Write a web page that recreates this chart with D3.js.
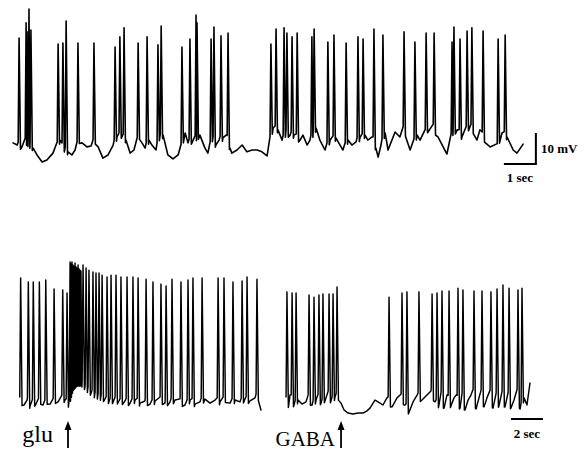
<!DOCTYPE html>
<html>
<head>
<meta charset="utf-8">
<script src="https://cdn.jsdelivr.net/npm/d3@7"></script>
<style>
  html, body { margin: 0; padding: 0; background: #fff; }
  svg { display: block; }
  text { font-family: "Liberation Serif", "DejaVu Serif", serif; fill: #000; }
</style>
</head>
<body>
<script>
// ---------- DATA (time in s, voltage in mV relative to rest) ----------
// Top trace: spontaneous firing
const topSpikeT = [0.19,0.41,0.44,0.50,0.56,1.41,1.56,1.66,2.03,2.53,3.19,3.34,3.47,3.91,4.19,4.53,4.63,5.28,5.53,5.72,5.75,6.19,6.28,6.50,6.72,8.06,8.22,8.47,8.56,8.72,8.88,9.34,9.41,9.84,10.03,10.41,10.78,10.94,11.28,11.56,12.22,12.56,12.91,13.16,13.72,13.78,13.97,14.19,14.34,14.69,15.16,15.38];
const topSpikeV = [36.1,41.0,38.1,45.5,38.7,34.2,34.5,41.6,34.5,34.5,33.2,36.5,39.4,34.5,36.5,33.9,40.0,33.2,35.8,43.5,41.0,35.8,39.7,36.8,37.7,34.2,39.0,39.4,37.7,36.5,37.7,36.5,39.0,34.8,37.1,34.5,36.5,35.8,39.0,37.1,38.1,34.8,37.7,37.7,34.8,39.7,35.8,38.4,39.4,38.4,35.8,37.1];
const topBaseT = [0,0.13,0.28,0.38,0.63,0.75,0.91,1.06,1.25,1.38,1.47,1.53,1.63,1.72,1.84,1.94,2.06,2.16,2.31,2.44,2.56,2.66,2.81,2.97,3.13,3.25,3.38,3.53,3.66,3.78,3.94,4.03,4.13,4.25,4.34,4.47,4.56,4.69,4.84,5.00,5.16,5.28,5.38,5.47,5.63,5.84,6.00,6.09,6.22,6.34,6.44,6.56,6.66,6.78,6.84,7.00,7.16,7.31,7.47,7.63,7.78,7.94,8.03,8.13,8.28,8.41,8.53,8.66,8.78,8.97,9.06,9.19,9.28,9.47,9.59,9.75,9.91,10.09,10.22,10.31,10.47,10.59,10.72,10.84,11.00,11.09,11.22,11.34,11.41,11.50,11.63,11.72,11.94,12.09,12.22,12.41,12.63,12.72,12.94,13.13,13.28,13.56,13.72,13.88,14.03,14.19,14.34,14.50,14.59,14.69,14.91,15.13,15.28,15.44,15.63,15.75,15.94];
const topBaseV = [2.3,1.6,1.0,2.9,0.6,-1.6,-3.9,-3.2,-1.0,1.6,3.2,1.3,0.0,-0.6,-1.6,0.0,3.2,2.3,1.0,1.3,3.2,1.0,-2.6,-1.6,1.6,4.2,4.8,3.2,-1.0,0.0,4.8,2.3,0.6,3.2,1.6,0.0,3.9,4.8,-1.6,-2.9,-1.6,1.6,5.5,2.3,3.2,4.8,0.6,-1.0,3.9,1.6,3.2,3.9,4.8,0.6,-1.0,0.0,1.6,-0.6,0.0,0.0,-0.6,-1.9,3.2,7.1,6.5,3.2,5.5,4.8,4.8,3.2,4.8,1.6,3.2,7.1,3.2,0.0,3.2,3.9,1.6,0.0,3.2,1.6,2.6,3.9,4.8,3.2,4.2,0.6,-2.3,1.6,5.5,0.0,5.8,4.2,7.1,0.0,4.8,3.2,6.5,7.4,4.2,-1.3,5.5,6.5,4.2,7.1,7.4,3.2,6.5,4.2,1.0,1.0,5.5,4.2,0.0,-1.0,1.9];

// Bottom-left trace: glutamate application
const gluSpikeT = [0.04,0.52,0.83,1.21,1.61,2.13,2.67,2.94,3.13,3.19,3.25,3.31,3.38,3.44,3.50,3.56,3.63,3.69,3.75,3.81,3.94,4.13,4.31,4.56,4.75,4.94,5.13,5.44,5.69,6.00,6.31,6.69,7.06,7.38,7.88,8.31,8.81,9.13,9.50,10.06,10.50,10.81,11.38,12.38,12.75,13.31,13.88,14.19,14.81];
const gluSpikeV = [41.0,39.7,39.7,39.7,40.3,37.4,37.1,36.1,46.1,45.5,46.1,45.2,44.8,45.8,44.5,44.2,45.2,43.9,43.5,43.2,45.2,44.2,43.5,42.9,42.6,42.6,41.9,41.3,41.9,41.9,41.3,41.3,41.3,41.0,40.6,39.7,39.0,38.4,40.6,39.7,40.3,41.0,41.0,41.0,41.0,39.7,40.0,41.3,40.6];
const gluBaseT = [0,0.25,0.44,0.63,0.81,1.0,1.25,1.44,1.69,1.88,2.19,2.38,2.63,2.81,3.0,3.13,3.31,3.56,3.81,4.06,4.38,4.69,5.0,5.31,5.63,5.94,6.25,6.56,6.88,7.19,7.5,7.81,8.13,8.44,8.75,9.06,9.38,9.69,10.0,10.31,10.63,10.94,11.25,11.56,11.88,12.19,12.5,12.81,13.13,13.44,13.75,14.06,14.38,14.69,14.88,15.06];
const gluBaseV = [1.6,0,1.6,-0.3,1.0,0.3,1.6,0,1.3,0.3,1.6,1.0,2.3,1.6,0,1.6,5.5,7.1,7.1,5.8,4.2,3.2,2.6,1.9,1.3,1.6,1.0,1.3,0.6,1.6,0.6,1.3,0.3,1.3,1.6,0.6,1.0,1.6,1.0,0,1.6,0.3,1.0,1.9,0.6,1.6,1.0,1.9,0.6,1.6,1.0,1.9,1.3,2.3,2.9,-1.6];

// Bottom-right trace: GABA application
const gabaSpikeT = [0.06,0.38,0.63,1.44,1.75,2.06,2.31,2.69,2.94,3.19,6.44,7.25,7.56,8.31,9.13,9.44,9.75,10.19,10.75,11.06,11.75,12.25,12.81,13.19,13.56,13.94,14.50,14.75];
const gabaSpikeV = [36.5,36.1,36.1,35.5,34.8,35.5,35.8,35.8,35.8,38.1,34.8,36.1,36.5,36.5,35.8,36.1,36.8,36.8,37.7,37.1,36.8,36.8,36.5,37.4,38.7,37.7,37.1,37.7];
const gabaBaseT = [0,0.13,0.25,0.5,0.75,1.0,1.25,1.38,1.63,1.88,2.0,2.19,2.5,2.63,2.81,3.06,3.25,3.44,3.63,3.88,4.19,4.5,4.81,5.06,5.25,5.56,5.75,6.06,6.31,6.63,6.94,7.13,7.44,7.69,7.94,8.19,8.5,8.81,9.06,9.31,9.56,9.69,9.88,10.06,10.31,10.5,10.63,10.88,11.0,11.19,11.38,11.56,11.69,11.88,12.06,12.19,12.38,12.56,12.75,12.94,13.13,13.31,13.5,13.69,13.88,14.06,14.25,14.44,14.63,14.88,15.06,15.25];
const gabaBaseV = [1.6,-0.3,3.2,0,1.6,0.3,1.0,2.3,0,1.6,2.6,0.6,2.3,3.5,1.3,2.6,2.9,0.6,-1.6,-2.6,-2.9,-2.6,-2.6,-1.9,-1.0,1.6,1.0,0,2.3,-0.6,2.3,3.2,0,-2.3,1.0,3.2,1.6,3.2,4.5,1.0,0,3.2,-1.0,3.2,-0.3,2.3,3.2,-1.0,2.9,-1.6,1.6,3.2,4.2,-1.3,2.3,3.9,-0.6,2.3,3.9,-1.0,2.9,-0.3,3.5,-0.6,3.2,-1.0,1.6,4.2,-1.3,2.3,0,7.1];

// Drug application times (s) and labels
const gluEventT = [3.0];
const gabaEventT = [3.44];
const eventLabels = ["glu", "GABA"];
const scaleLabels = ["10 mV", "1 sec", "2 sec"];

// ---------- DRAWING ----------
const W = 584, H = 450;
const svg = d3.select("body").append("svg").attr("width", W).attr("height", H);

const xTop = d3.scaleLinear().domain([0, 16]).range([13, 525]);
const yTop = d3.scaleLinear().domain([0, 10]).range([150, 119]);
const xGlu = d3.scaleLinear().domain([0, 15]).range([20, 260]);
const xGaba = d3.scaleLinear().domain([0, 15]).range([286, 526]);
const yBot = d3.scaleLinear().domain([0, 10]).range([405, 374]);

function tracePoints(baseT, baseV, spT, spV, x) {
  const baseFn = d3.scaleLinear().domain(baseT).range(baseV).clamp(true);
  const pxPerS = x(1) - x(0);
  const prePx = 0.9, postPx = 1.4;
  const wins = spT.map((t, i) => {
    const gp = i > 0 ? t - spT[i - 1] : 1;
    const gn = i < spT.length - 1 ? spT[i + 1] - t : 1;
    const pre = Math.min(prePx / pxPerS, gp * 0.45);
    const post = Math.min(postPx / pxPerS, gn * 0.45);
    return { t, v: spV[i], a: t - pre, b: t + post };
  });
  const pts = [];
  baseT.forEach((t, i) => {
    if (!wins.some(w => t >= w.a - 0.01 && t <= w.b + 0.01)) pts.push({ t, v: baseV[i] });
  });
  wins.forEach(w => {
    pts.push({ t: w.a, v: baseFn(w.a) + 1 });
    pts.push({ t: w.t, v: w.v });
    pts.push({ t: w.b, v: baseFn(w.b) - 1 });
  });
  pts.sort((p, q) => p.t - q.t);
  return pts;
}

function drawTrace(pts, x, y, sw) {
  const line = d3.line().x(d => x(d.t)).y(d => y(d.v));
  svg.append("path")
    .attr("d", line(pts))
    .attr("fill", "none")
    .attr("stroke", "#000")
    .attr("stroke-width", sw)
    .attr("stroke-linejoin", "round")
    .attr("stroke-linecap", "round");
}

drawTrace(tracePoints(topBaseT, topBaseV, topSpikeT, topSpikeV, xTop), xTop, yTop, 1.6);
drawTrace(tracePoints(gluBaseT, gluBaseV, gluSpikeT, gluSpikeV, xGlu), xGlu, yBot, 1.45);
drawTrace(tracePoints(gabaBaseT, gabaBaseV, gabaSpikeT, gabaSpikeV, xGaba), xGaba, yBot, 1.45);

// Top scale bar: 1 sec x 10 mV
const sbT0 = 15.34, sbV0 = -4.5;
svg.append("path")
  .attr("d", `M${xTop(sbT0)},${yTop(sbV0)} H${xTop(sbT0 + 1)} V${yTop(sbV0 + 10)}`)
  .attr("fill", "none").attr("stroke", "#000").attr("stroke-width", 2);
svg.append("text").attr("x", xTop(sbT0 + 1) + 5).attr("y", yTop(sbV0 + 5) + 5)
  .attr("font-size", 13).attr("font-weight", "bold").text(scaleLabels[0]);
svg.append("text").attr("x", xTop(sbT0 + 0.5)).attr("y", yTop(sbV0) + 18)
  .attr("text-anchor", "middle").attr("font-size", 13).attr("font-weight", "bold").text(scaleLabels[1]);

// Bottom scale bar: 2 sec
const sb2T0 = 14.06, sb2V = -4.5;
svg.append("line")
  .attr("x1", xGaba(sb2T0)).attr("x2", xGaba(sb2T0 + 2))
  .attr("y1", yBot(sb2V)).attr("y2", yBot(sb2V))
  .attr("stroke", "#000").attr("stroke-width", 2);
svg.append("text").attr("x", xGaba(sb2T0 + 1)).attr("y", yBot(sb2V) + 19)
  .attr("text-anchor", "middle").attr("font-size", 13).attr("font-weight", "bold").text(scaleLabels[2]);

// Event arrows and labels
function arrow(xp) {
  const top = 421, bot = 448;
  svg.append("line").attr("x1", xp).attr("x2", xp).attr("y1", top + 5).attr("y2", bot)
    .attr("stroke", "#000").attr("stroke-width", 1.8);
  svg.append("path").attr("d", `M${xp},${top} L${xp - 3.5},${top + 9} L${xp + 3.5},${top + 9} Z`)
    .attr("fill", "#000");
}
const gx = xGlu(gluEventT[0]);
arrow(gx);
svg.append("text").attr("x", gx - 15).attr("y", 442).attr("text-anchor", "end")
  .attr("font-size", 24).text(eventLabels[0]);
const bx = xGaba(gabaEventT[0]);
arrow(bx);
svg.append("text").attr("x", bx - 6).attr("y", 446).attr("text-anchor", "end")
  .attr("font-size", 21).text(eventLabels[1]);
</script>
</body>
</html>
